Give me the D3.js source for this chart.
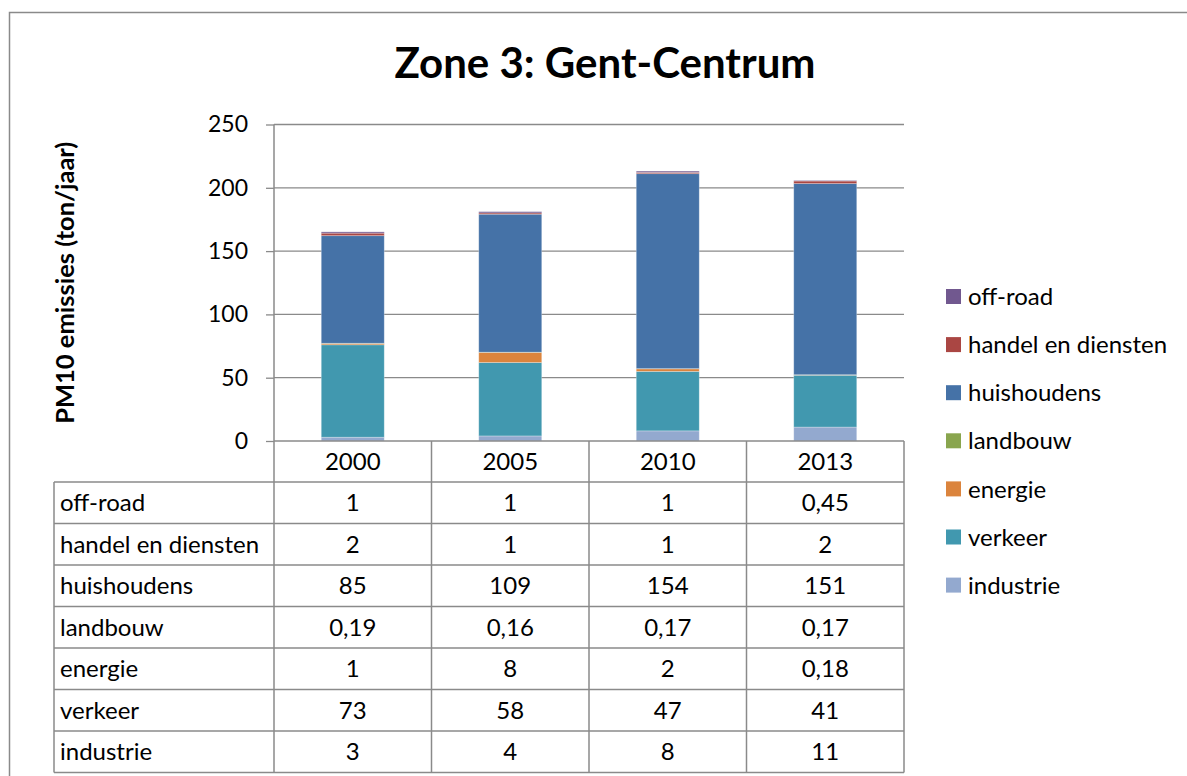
<!DOCTYPE html>
<html>
<head>
<meta charset="utf-8">
<script src="https://cdn.jsdelivr.net/npm/d3@7"></script>
<style>
	body { margin: 0; background: #fff; }
	text { font-family: Lato, "Noto Sans", sans-serif; fill: #000; }
</style>
</head>
<body>
<div id="canvas"></div>
<script>
// data
const years = ["2000", "2005", "2010", "2013"];
const sectors = ["off-road", "handel en diensten", "huishoudens", "landbouw", "energie", "verkeer", "industrie"];
const offRoad = [1, 1, 1, 0.45];
const handel = [2, 1, 1, 2];
const huishoudens = [85, 109, 154, 151];
const landbouw = [0.19, 0.16, 0.17, 0.17];
const energie = [1, 8, 2, 0.18];
const verkeer = [73, 58, 47, 41];
const industrie = [3, 4, 8, 11];
const yTicks = [0, 50, 100, 150, 200, 250];

const seriesValues = {
	"off-road": offRoad,
	"handel en diensten": handel,
	"huishoudens": huishoudens,
	"landbouw": landbouw,
	"energie": energie,
	"verkeer": verkeer,
	"industrie": industrie
};
const colors = {
	"off-road": "#71588F",
	"handel en diensten": "#AA4643",
	"huishoudens": "#4572A7",
	"landbouw": "#89A54E",
	"energie": "#DB843D",
	"verkeer": "#4198AF",
	"industrie": "#93A9CF"
};

const W = 1187, H = 776;
const plot = {left: 274, right: 904, top: 124.5, bottom: 441};
const table = {left: 54, rowTop: 482, rowH: 41.5};
const lineColor = "#8a8a8a";
const fontSize = "24px";

const svg = d3.select("#canvas").append("svg")
	.attr("width", W).attr("height", H);

// outer chart border
svg.append("rect")
	.attr("x", 9.5).attr("y", 12.5)
	.attr("width", 1300).attr("height", 900)
	.attr("fill", "none").attr("stroke", lineColor).attr("stroke-width", 1.5);

svg.append("text")
	.attr("x", 605).attr("y", 78)
	.attr("text-anchor", "middle")
	.style("font-size", "42px").style("font-weight", "bold")
	.text("Zone 3: Gent-Centrum");

const x = d3.scaleBand().domain(years)
	.range([plot.left, plot.right])
	.paddingInner(0.6).paddingOuter(0.3);
const y = d3.scaleLinear().domain([0, 250]).range([plot.bottom, plot.top]);

// gridlines
svg.append("g").selectAll("line").data(yTicks.filter(d => d > 0)).join("line")
	.attr("x1", plot.left).attr("x2", plot.right)
	.attr("y1", d => y(d)).attr("y2", d => y(d))
	.attr("stroke", lineColor).attr("stroke-width", 1.3);

// stacked bars, industrie at the bottom
const rows = years.map((yr, i) => {
	const r = {year: yr};
	sectors.forEach(s => r[s] = seriesValues[s][i]);
	return r;
});
const stack = d3.stack().keys(sectors.slice().reverse())(rows);

svg.append("g").selectAll("g").data(stack).join("g")
	.attr("fill", d => colors[d.key])
	.selectAll("rect").data(d => d).join("rect")
	.attr("x", d => x(d.data.year))
	.attr("width", x.bandwidth())
	.attr("y", d => y(d[1]))
	.attr("height", d => y(d[0]) - y(d[1]))
	.attr("stroke", "#fff").attr("stroke-opacity", 0.35).attr("stroke-width", 0.8);

// y axis
const yAxis = svg.append("g")
	.attr("transform", `translate(${plot.left},0)`)
	.call(d3.axisLeft(y).tickValues(yTicks).tickSize(8).tickPadding(18));
yAxis.select(".domain").remove();
yAxis.selectAll(".tick line").attr("stroke", lineColor).attr("stroke-width", 1.3);
yAxis.selectAll(".tick text")
	.style("font-size", "23px").style("font-family", "Lato, sans-serif").attr("fill", "#000");

const tableBottom = table.rowTop + table.rowH * sectors.length;

// axis line running down through the table
svg.append("line")
	.attr("x1", plot.left).attr("x2", plot.left)
	.attr("y1", plot.top).attr("y2", tableBottom)
	.attr("stroke", lineColor).attr("stroke-width", 1.5);
svg.append("line")
	.attr("x1", plot.left).attr("x2", plot.right)
	.attr("y1", plot.bottom).attr("y2", plot.bottom)
	.attr("stroke", lineColor).attr("stroke-width", 1.5);

svg.append("text")
	.attr("transform", `translate(74,${(plot.top + plot.bottom) / 2}) rotate(-90)`)
	.attr("text-anchor", "middle")
	.style("font-size", "25.5px").style("font-weight", "bold")
	.text("PM10 emissies (ton/jaar)");

// data table
const colStep = (plot.right - plot.left) / years.length;
const tbl = svg.append("g");
years.forEach((yr, i) => {
	tbl.append("line")
		.attr("x1", plot.left + colStep * (i + 1)).attr("x2", plot.left + colStep * (i + 1))
		.attr("y1", plot.bottom).attr("y2", tableBottom)
		.attr("stroke", lineColor).attr("stroke-width", 1.5);
	tbl.append("text")
		.attr("x", plot.left + colStep * (i + 0.5))
		.attr("y", (plot.bottom + table.rowTop) / 2)
		.attr("dy", "0.36em").attr("text-anchor", "middle")
		.style("font-size", fontSize)
		.text(yr);
});
tbl.append("line")
	.attr("x1", table.left).attr("x2", table.left)
	.attr("y1", table.rowTop).attr("y2", tableBottom)
	.attr("stroke", lineColor).attr("stroke-width", 1.5);
d3.range(sectors.length + 1).forEach(k => {
	tbl.append("line")
		.attr("x1", table.left).attr("x2", plot.right)
		.attr("y1", table.rowTop + table.rowH * k).attr("y2", table.rowTop + table.rowH * k)
		.attr("stroke", lineColor).attr("stroke-width", 1.5);
});
const fmt = v => String(v).replace(".", ",");
sectors.forEach((s, k) => {
	const cy = table.rowTop + table.rowH * (k + 0.5);
	tbl.append("text")
		.attr("x", table.left + 6).attr("y", cy).attr("dy", "0.36em")
		.style("font-size", fontSize)
		.text(s);
	seriesValues[s].forEach((v, i) => {
		tbl.append("text")
			.attr("x", plot.left + colStep * (i + 0.5)).attr("y", cy).attr("dy", "0.36em")
			.attr("text-anchor", "middle")
			.style("font-size", fontSize)
			.text(fmt(v));
	});
});

// legend
const legend = svg.append("g");
sectors.forEach((s, k) => {
	const cy = 296.5 + k * 48.1;
	legend.append("rect")
		.attr("x", 946).attr("y", cy - 7.5)
		.attr("width", 15).attr("height", 15)
		.attr("fill", colors[s]);
	legend.append("text")
		.attr("x", 968).attr("y", cy).attr("dy", "0.36em")
		.style("font-size", fontSize)
		.text(s);
});
</script>
</body>
</html>
